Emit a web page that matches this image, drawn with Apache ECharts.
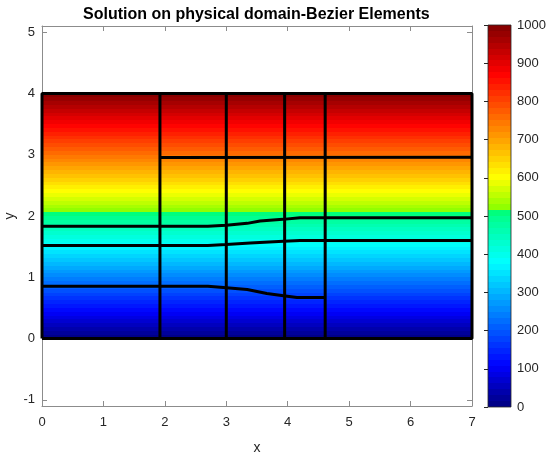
<!DOCTYPE html>
<html>
<head>
<meta charset="utf-8">
<script src="https://cdn.jsdelivr.net/npm/echarts@6/dist/echarts.min.js"></script>
<style>
  html, body { margin: 0; padding: 0; background: #fff; }
  #chart { width: 550px; height: 456px; }
</style>
</head>
<body>
<div id="chart"></div>
<script>
// solution field: domain extents and values at bottom / top edge
const domainX = [0, 7];
const domainY = [0, 4];
const fieldVals = [0, 1000];

// axis ticks
const xTicks = [0, 1, 2, 3, 4, 5, 6, 7];
const yTicks = [-1, 0, 1, 2, 3, 4, 5];
const cbarRange = [0, 1000];
const cbarTicks = [0, 100, 200, 300, 400, 500, 600, 700, 800, 900, 1000];

// element boundaries
const outline = [[0, 0], [7, 0], [7, 4], [0, 4], [0, 0]];
const vLines = [1.92, 3.0, 3.95, 4.61];
const topLine = [[1.92, 2.955], [7, 2.96]];
const curveA = [[0, 1.833], [2.7, 1.833], [3.0, 1.85], [3.34, 1.88], [3.55, 1.92], [3.92, 1.945], [4.2, 1.97], [7, 1.97]];
const curveB = [[0, 1.52], [2.7, 1.52], [3.0, 1.535], [3.39, 1.56], [3.93, 1.59], [4.2, 1.6], [7, 1.6]];
const curveC = [[0, 0.855], [2.7, 0.855], [3.0, 0.83], [3.34, 0.80], [3.66, 0.735], [3.93, 0.70], [4.15, 0.672], [4.61, 0.67]];

// colormap anchors (jet-like)
const cmapPos = [0, 0.11, 0.38, 0.5, 0.515, 0.52, 0.6, 0.87, 1];
const cmapCol = ['#00007f', '#0000ff', '#00ffff', '#00ff8c', '#00ff70', '#8cff00', '#ffff00', '#ff0000', '#800000'];
const nLevels = 64;

function hexRgb(h) {
  return [parseInt(h.substr(1, 2), 16), parseInt(h.substr(3, 2), 16), parseInt(h.substr(5, 2), 16)];
}
function cmap(t) {
  for (let i = 1; i < cmapPos.length; i++) {
    if (t <= cmapPos[i]) {
      const a = hexRgb(cmapCol[i - 1]), b = hexRgb(cmapCol[i]);
      const f = (t - cmapPos[i - 1]) / (cmapPos[i] - cmapPos[i - 1]);
      return 'rgb(' + a.map((c, k) => Math.round(c + (b[k] - c) * f)).join(',') + ')';
    }
  }
  return cmapCol[cmapCol.length - 1];
}
// banded gradient between two values (bottom -> top)
function bandStops(v0, v1) {
  const stops = [];
  const span = cbarRange[1] - cbarRange[0];
  for (let i = 0; i < nLevels; i++) {
    const lo = cbarRange[0] + span * i / nLevels, hi = cbarRange[0] + span * (i + 1) / nLevels;
    if (hi <= v0 || lo >= v1) continue;
    const c = cmap((i + 0.5) / nLevels);
    const o0 = Math.max(0, (lo - v0) / (v1 - v0)), o1 = Math.min(1, (hi - v0) / (v1 - v0));
    stops.push({ offset: o0, color: c }, { offset: o1, color: c });
  }
  return stops;
}

const chart = echarts.init(document.getElementById('chart'));
const font = 'Liberation Sans, Arial, sans-serif';
const txt = '#262626';
const frame = '#8c8c8c';

function rectItem(stroke) {
  return function (params, api) {
    const p0 = api.coord([api.value(0), api.value(3)]);
    const p1 = api.coord([api.value(1), api.value(2)]);
    return {
      type: 'rect',
      shape: { x: p0[0], y: p0[1], width: p1[0] - p0[0], height: p1[1] - p0[1] },
      style: {
        fill: new echarts.graphic.LinearGradient(0, 1, 0, 0, bandStops(api.value(4), api.value(5))),
        stroke: stroke,
        lineWidth: stroke ? 0.8 : 0
      }
    };
  };
}

const blackLine = (data) => ({
  type: 'line', xAxisIndex: 0, yAxisIndex: 0, data: data,
  symbol: 'none', silent: true, z: 5,
  lineStyle: { color: '#000', width: 3 }
});

const series = [
  {
    type: 'custom', xAxisIndex: 0, yAxisIndex: 0, silent: true, z: 2,
    renderItem: rectItem(null),
    data: [[domainX[0], domainX[1], domainY[0], domainY[1], fieldVals[0], fieldVals[1]]]
  },
  {
    type: 'custom', xAxisIndex: 2, yAxisIndex: 2, silent: true, z: 2,
    renderItem: rectItem(txt),
    data: [[0, 1, cbarRange[0], cbarRange[1], cbarRange[0], cbarRange[1]]]
  },
  blackLine(outline),
  blackLine(topLine),
  blackLine(curveA),
  blackLine(curveB),
  blackLine(curveC)
].concat(vLines.map(x => blackLine([[x, domainY[0]], [x, domainY[1]]])));

const tickStyle = { inside: true, length: 5, lineStyle: { color: frame } };
const lineStyle = { show: true, onZero: false, lineStyle: { color: frame } };

const option = {
  backgroundColor: '#fff',
  animation: false,
  textStyle: { fontFamily: font },
  title: {
    text: 'Solution on physical domain-Bezier Elements',
    left: 78, top: 2,
    textStyle: { fontFamily: font, fontSize: 16, fontWeight: 'bold', color: '#000' }
  },
  grid: [
    { left: 42, right: 78, top: 26, bottom: 50, outerBoundsMode: 'none', containLabel: false },
    { left: 488, width: 23, top: 25, bottom: 49, outerBoundsMode: 'none', containLabel: false }
  ],
  xAxis: [
    {
      type: 'value', gridIndex: 0, min: 0, max: 7, position: 'bottom',
      name: 'x', nameLocation: 'middle', nameGap: 35, nameMoveOverlap: false,
      nameTextStyle: { color: txt, fontSize: 14, fontFamily: font },
      axisLine: lineStyle,
      axisTick: Object.assign({ customValues: xTicks }, tickStyle),
      axisLabel: { color: txt, fontSize: 13, margin: 10, fontFamily: font, customValues: xTicks },
      splitLine: { show: false }
    },
    {
      type: 'value', gridIndex: 0, min: 0, max: 7, position: 'top',
      axisLine: lineStyle,
      axisTick: Object.assign({ customValues: xTicks }, tickStyle),
      axisLabel: { show: false },
      splitLine: { show: false }
    },
    { type: 'value', gridIndex: 1, min: 0, max: 1, show: false }
  ],
  yAxis: [
    {
      type: 'value', gridIndex: 0, min: -1.1, max: 5.1, position: 'left',
      name: 'y', nameLocation: 'middle', nameGap: 25, nameRotate: 90, nameMoveOverlap: false,
      nameTextStyle: { color: txt, fontSize: 14, fontFamily: font },
      axisLine: lineStyle,
      axisTick: Object.assign({ customValues: yTicks }, tickStyle),
      axisLabel: { color: txt, fontSize: 13, margin: 7, fontFamily: font, customValues: yTicks },
      splitLine: { show: false }
    },
    {
      type: 'value', gridIndex: 0, min: -1.1, max: 5.1, position: 'right',
      axisLine: lineStyle,
      axisTick: Object.assign({ customValues: yTicks }, tickStyle),
      axisLabel: { show: false },
      splitLine: { show: false }
    },
    {
      type: 'value', gridIndex: 1, min: cbarRange[0], max: cbarRange[1], position: 'right',
      axisLine: { show: false },
      axisTick: { inside: true, length: 4, lineStyle: { color: txt }, customValues: cbarTicks },
      axisLabel: { color: txt, fontSize: 13, margin: 6, fontFamily: font, customValues: cbarTicks, formatter: (v) => String(v) },
      splitLine: { show: false }
    }
  ],
  series: series
};

chart.setOption(option);
</script>
</body>
</html>
